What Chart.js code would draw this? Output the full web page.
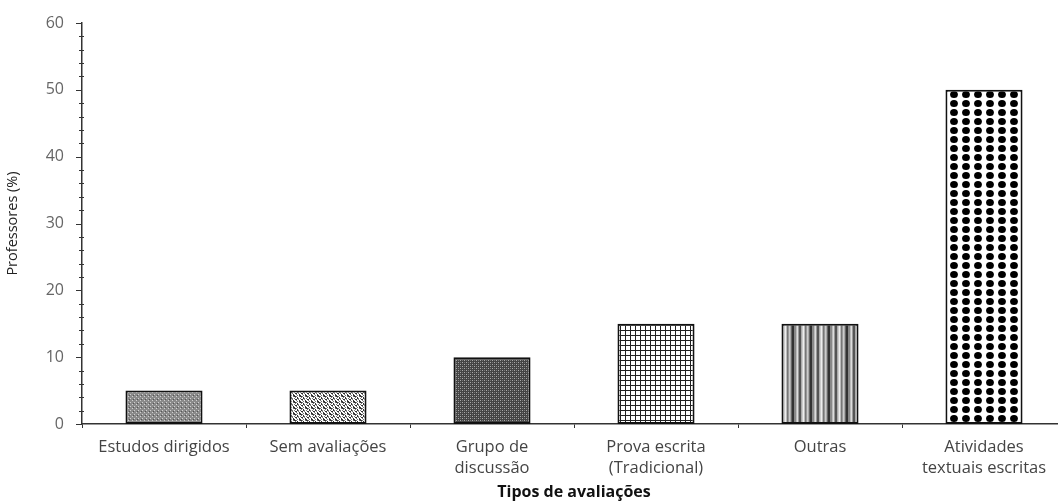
<!DOCTYPE html>
<html>
<head>
<meta charset="utf-8">
<script src="https://cdn.jsdelivr.net/npm/chart.js@4/dist/chart.umd.min.js"></script>
<style>
  html, body { margin: 0; padding: 0; background: #fff; overflow: hidden; }
  #wrap { width: 1066px; height: 502px; position: relative; }
</style>
</head>
<body>
<div id="wrap"><canvas id="chart"></canvas></div>
<script>
// ===== Dados =====
const categorias = [
  'Estudos dirigidos',
  'Sem avaliações',
  ['Grupo de', 'discussão'],
  ['Prova escrita', '(Tradicional)'],
  'Outras',
  ['Atividades', 'textuais escritas']
]
const professores = [5, 5, 10, 15, 15, 50]
const yMin = 0
const yMax = 60

// ===== Padrões (hachuras) =====
function makePattern(w, h, draw) {
  const c = document.createElement('canvas')
  c.width = w; c.height = h
  const g = c.getContext('2d')
  g.fillStyle = '#fff'
  g.fillRect(0, 0, w, h)
  draw(g)
  return g.createPattern(c, 'repeat')
}

const patterns = [
  // estudos dirigidos: cinza fino
  makePattern(4, 4, g => {
    g.fillStyle = '#8a8a8a'; g.fillRect(0, 0, 4, 4)
    g.fillStyle = '#d0d0d0'; g.fillRect(0, 0, 1, 1); g.fillRect(2, 2, 1, 1)
    g.fillStyle = '#555'; g.fillRect(1, 3, 1, 1)
  }),
  // sem avaliações: confete
  makePattern(6, 6, g => {
    g.fillStyle = '#333'
    g.fillRect(0, 0, 2, 1); g.fillRect(3, 1, 1, 2); g.fillRect(1, 3, 2, 1); g.fillRect(5, 4, 1, 2); g.fillRect(0, 5, 1, 1)
    g.fillStyle = '#777'
    g.fillRect(2, 0, 1, 1); g.fillRect(4, 3, 1, 1); g.fillRect(3, 5, 1, 1); g.fillRect(0, 2, 1, 1)
    g.fillRect(5, 0, 1, 1); g.fillRect(1, 1, 1, 1); g.fillRect(4, 2, 1, 1); g.fillRect(2, 4, 1, 1)
  }),
  // grupo de discussão: xadrez escuro
  makePattern(4, 4, g => {
    g.fillStyle = '#444'; g.fillRect(0, 0, 4, 4)
    g.fillStyle = '#aaa'; g.fillRect(0, 0, 1, 1); g.fillRect(2, 2, 1, 1)
    g.fillStyle = '#777'; g.fillRect(2, 0, 1, 1); g.fillRect(0, 2, 1, 1)
  }),
  // prova escrita: grade
  makePattern(5, 5, g => {
    g.fillStyle = '#222'
    g.fillRect(0, 0, 5, 1); g.fillRect(0, 0, 1, 5)
  }),
  // outras: listras verticais
  makePattern(18, 4, g => {
    const cols = ['#333', '#333', '#888', '#888', '#bbb', '#ddd', '#999', '#555', '#555', '#aaa', '#ccc', '#eee', '#bbb', '#777', '#999', '#ccc', '#aaa', '#666']
    cols.forEach((c, i) => { g.fillStyle = c; g.fillRect(i, 0, 1, 4) })
  }),
  // atividades textuais: bolinhas
  makePattern(12, 9, g => {
    g.fillStyle = '#000'
    g.beginPath(); g.ellipse(6, 4.5, 3.9, 3.5, 0, 0, Math.PI * 2); g.fill()
  })
]

const font = "'Open Sans', 'Liberation Sans', sans-serif"

// tiques menores no eixo y
const minorTicks = {
  id: 'minorTicks',
  afterDraw(chart) {
    const y = chart.scales.y
    const ctx = chart.ctx
    const x0 = chart.chartArea.left
    ctx.save()
    ctx.strokeStyle = '#333'
    ctx.lineWidth = 1
    for (let v = yMin; v <= yMax; v += 2) {
      const py = Math.round(y.getPixelForValue(v)) + 0.5
      const major = v % 10 === 0
      ctx.beginPath()
      ctx.moveTo(x0 - (major ? 6 : 3), py)
      ctx.lineTo(x0 + (major ? 0 : 2), py)
      ctx.stroke()
    }
    ctx.restore()
  }
}

new Chart(document.getElementById('chart'), {
  type: 'bar',
  data: {
    labels: categorias,
    datasets: [{
      data: professores,
      backgroundColor: patterns,
      borderColor: '#111',
      borderWidth: 2,
      borderSkipped: false,
      barPercentage: 0.47,
      categoryPercentage: 1
    }]
  },
  options: {
    responsive: true,
    maintainAspectRatio: false,
    animation: false,
    layout: { padding: { top: 23, right: 0, left: 0, bottom: 0 } },
    plugins: { legend: { display: false }, tooltip: { enabled: false } },
    scales: {
      x: {
        offset: true,
        grid: { display: true, drawOnChartArea: false, offset: true, tickLength: 4, color: '#333', tickColor: '#333' },
        border: { display: true, color: '#333', width: 1.5 },
        ticks: { color: '#444', font: { family: font, size: 16.5, lineHeight: 1.25 }, padding: 9, maxRotation: 0, autoSkip: false },
        title: { display: true, text: 'Tipos de avaliações', color: '#111', font: { family: font, size: 16, weight: 'bold' }, padding: { top: 0, bottom: 0 } },
        afterFit: s => { s.height = 78 }
      },
      y: {
        min: yMin,
        max: yMax,
        grid: { display: false },
        border: { display: true, color: '#333', width: 1.5 },
        ticks: { stepSize: 10, color: '#666', font: { family: font, size: 16 }, padding: 10 },
        title: { display: true, text: 'Professores (%)', color: '#222', font: { family: font, size: 14.5 }, padding: { top: 4, bottom: 4 } },
        afterFit: s => { s.width = 82 }
      }
    }
  },
  plugins: [minorTicks]
})
</script>
</body>
</html>
